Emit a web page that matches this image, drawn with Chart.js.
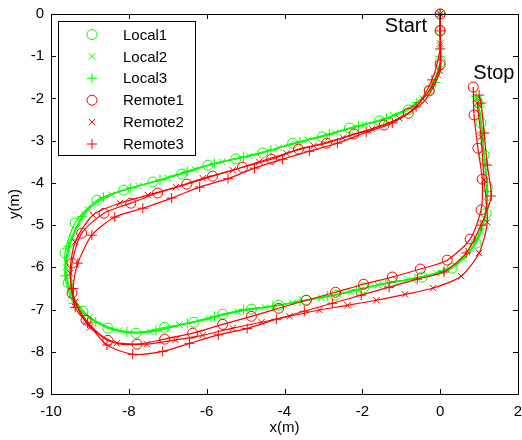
<!DOCTYPE html>
<html>
<head>
<meta charset="utf-8">
<script src="https://cdn.jsdelivr.net/npm/chart.js@4.4.0/dist/chart.umd.min.js"></script>
<style>
html, body { margin: 0; padding: 0; background: #fff; overflow: hidden; }
#wrap { width: 524px; height: 440px; }
</style>
</head>
<body>
<div id="wrap"><canvas id="myChart"></canvas></div>
<script>
const seriesNames = ['Local1', 'Local2', 'Local3', 'Remote1', 'Remote2', 'Remote3'];

const local1X = [0, 0, 0, -0.28, -0.82, -1.56, -2.33, -3.03, -3.79, -4.56, -5.25, -5.97, -6.64, -7.38, -8.13, -8.82, -9.38, -9.64, -9.56, -9.18, -8.54, -7.82, -7.08, -6.33, -5.59, -4.85, -4.15, -3.44, -2.69, -1.97, -1.23, -0.46, 0.31, 0.92, 1.18, 1.21, 1.13, 1.05, 0.97];
const local1Y = [0, -0.38, -1.14, -1.80, -2.27, -2.53, -2.70, -2.91, -3.06, -3.29, -3.43, -3.58, -3.79, -3.98, -4.17, -4.41, -4.95, -5.66, -6.37, -7.04, -7.44, -7.56, -7.42, -7.30, -7.11, -6.99, -6.90, -6.78, -6.66, -6.49, -6.35, -6.23, -6.02, -5.43, -4.72, -4.10, -3.34, -2.58, -2.09];

const local2X = [0, 0, -0.05, -0.45, -1.2, -1.95, -2.7, -3.4, -4.15, -4.9, -5.6, -6.3, -7.0, -7.75, -8.45, -9.05, -9.45, -9.62, -9.48, -9.0, -8.25, -7.45, -6.7, -5.95, -5.2, -4.5, -3.8, -3.05, -2.3, -1.6, -0.85, -0.1, 0.6, 1.05, 1.2, 1.17, 1.1, 1.02, 0.95];
const local2Y = [0, -0.75, -1.45, -2.0, -2.40, -2.62, -2.81, -2.98, -3.17, -3.36, -3.50, -3.68, -3.88, -4.07, -4.28, -4.63, -5.30, -6.0, -6.65, -7.18, -7.50, -7.53, -7.36, -7.22, -7.05, -6.95, -6.84, -6.72, -6.58, -6.42, -6.29, -6.13, -5.80, -5.15, -4.45, -3.75, -3.0, -2.35, -2.0];

const local3X = [0, 0, -0.12, -0.6, -1.38, -2.1, -2.85, -3.6, -4.35, -5.05, -5.8, -6.5, -7.2, -7.95, -8.65, -9.2, -9.55, -9.64, -9.42, -8.85, -8.05, -7.3, -6.5, -5.8, -5.05, -4.3, -3.6, -2.9, -2.15, -1.4, -0.65, 0.1, 0.75, 1.12, 1.22, 1.15, 1.08, 1.0, 0.93];
const local3Y = [0, -1.0, -1.62, -2.10, -2.47, -2.65, -2.84, -3.03, -3.22, -3.38, -3.54, -3.72, -3.93, -4.12, -4.34, -4.80, -5.5, -6.2, -6.85, -7.30, -7.53, -7.50, -7.33, -7.16, -7.0, -6.92, -6.80, -6.68, -6.53, -6.38, -6.26, -6.08, -5.62, -4.9, -4.2, -3.55, -2.8, -2.2, -1.95];

const remote1X = [0, 0, 0, -0.28, -0.82, -1.44, -2.21, -2.92, -3.64, -4.33, -5.08, -5.85, -6.51, -7.26, -7.95, -8.64, -9.21, -9.46, -9.46, -9.10, -8.54, -7.79, -7.08, -6.36, -5.59, -4.85, -4.15, -3.44, -2.69, -1.97, -1.23, -0.51, 0.18, 0.77, 1.05, 1.08, 0.97, 0.87, 0.85];
const remote1Y = [0, -0.4, -1.2, -1.82, -2.35, -2.63, -2.84, -3.06, -3.20, -3.44, -3.63, -3.84, -4.03, -4.24, -4.48, -4.72, -5.19, -5.90, -6.61, -7.25, -7.73, -7.82, -7.70, -7.56, -7.35, -7.16, -6.97, -6.78, -6.59, -6.40, -6.23, -6.04, -5.83, -5.33, -4.64, -3.91, -3.18, -2.39, -1.73];

const remote2X = [0, 0, 0, -0.4, -1.05, -1.75, -2.5, -3.25, -3.95, -4.65, -5.33, -6.10, -6.79, -7.51, -8.23, -8.92, -9.38, -9.51, -9.38, -9.0, -8.31, -7.54, -6.80, -6.10, -5.33, -4.59, -3.87, -3.10, -2.38, -1.64, -0.90, -0.18, 0.54, 1.0, 1.21, 1.13, 1.05, 0.95];
const remote2Y = [0, -0.7, -1.35, -2.05, -2.47, -2.72, -2.93, -3.12, -3.30, -3.50, -3.70, -3.89, -4.10, -4.29, -4.48, -4.76, -5.40, -6.14, -6.82, -7.42, -7.80, -7.82, -7.72, -7.61, -7.44, -7.30, -7.16, -7.01, -6.90, -6.78, -6.64, -6.49, -6.21, -5.66, -4.93, -3.93, -2.91, -2.11];

const remote3X = [0, 0, 0, -0.21, -0.62, -1.23, -1.90, -2.64, -3.36, -4.05, -4.77, -5.45, -6.18, -6.90, -7.64, -8.36, -8.95, -9.31, -9.43, -9.38, -9.06, -8.56, -7.90, -7.13, -6.44, -5.70, -4.96, -4.21, -3.49, -2.77, -2.03, -1.31, -0.59, 0.10, 0.67, 1.05, 1.31, 1.21, 1.13, 1.05, 1.0];
const remote3Y = [0, -0.4, -0.83, -1.56, -2.20, -2.58, -2.80, -3.06, -3.25, -3.44, -3.65, -3.90, -4.10, -4.36, -4.60, -4.81, -5.24, -5.90, -6.50, -6.95, -7.32, -7.84, -8.06, -7.99, -7.80, -7.60, -7.45, -7.23, -7.04, -6.85, -6.66, -6.47, -6.28, -6.11, -5.66, -5.0, -4.31, -3.58, -2.82, -2.11, -1.92];

const xTicks = [-10, -8, -6, -4, -2, 0, 2];
const yTicks = [0, -1, -2, -3, -4, -5, -6, -7, -8, -9];

const GREEN = '#00ff00';
const RED = '#ff0000';
const FONT = "'Liberation Sans', Arial, sans-serif";

function pts(xs, ys) {
    return xs.map((x, i) => ({ x: x, y: ys[i] }));
}

function series(name, xs, ys, color, style, r, order) {
    return {
        label: name,
        data: pts(xs, ys),
        showLine: true,
        borderColor: color,
        backgroundColor: 'rgba(0,0,0,0)',
        borderWidth: 1.2,
        pointStyle: style,
        pointRadius: r,
        pointHoverRadius: r,
        pointBorderColor: color,
        pointBorderWidth: 1,
        pointBackgroundColor: 'rgba(0,0,0,0)',
        tension: 0.25,
        clip: false,
        order: order
    };
}

const datasets = [
    series(seriesNames[0], local1X, local1Y, GREEN, 'circle', 5, 6),
    series(seriesNames[1], local2X, local2Y, GREEN, 'crossRot', 4.5, 5),
    series(seriesNames[2], local3X, local3Y, GREEN, 'cross', 5, 4),
    series(seriesNames[3], remote1X, remote1Y, RED, 'circle', 5, 3),
    series(seriesNames[4], remote2X, remote2Y, RED, 'crossRot', 4.5, 2),
    series(seriesNames[5], remote3X, remote3Y, RED, 'cross', 5, 1)
];

// box, inward ticks, legend and the two labels
const framePlugin = {
    id: 'frame',
    afterDraw(chart) {
        const ctx = chart.ctx;
        const a = chart.chartArea;
        const xs = chart.scales.x;
        const ys = chart.scales.y;
        ctx.save();
        ctx.strokeStyle = '#000';
        ctx.lineWidth = 1;
        ctx.beginPath();
        xTicks.forEach(v => {
            const px = Math.round(xs.getPixelForValue(v)) + 0.5;
            ctx.moveTo(px, a.bottom); ctx.lineTo(px, a.bottom - 5);
            ctx.moveTo(px, a.top); ctx.lineTo(px, a.top + 5);
        });
        yTicks.forEach(v => {
            const py = Math.round(ys.getPixelForValue(v)) + 0.5;
            ctx.moveTo(a.left, py); ctx.lineTo(a.left + 5, py);
            ctx.moveTo(a.right, py); ctx.lineTo(a.right - 5, py);
        });
        ctx.stroke();
        ctx.strokeRect(Math.round(a.left) + 0.5, Math.round(a.top) + 0.5,
            Math.round(a.right - a.left), Math.round(a.bottom - a.top));

        // legend
        const lx = 58, ly = 21, lw = 137, lh = 134;
        ctx.fillStyle = '#fff';
        ctx.fillRect(lx, ly, lw, lh);
        ctx.strokeRect(lx + 0.5, ly + 0.5, lw, lh);
        ctx.font = '15px ' + FONT;
        ctx.textBaseline = 'middle';
        ctx.textAlign = 'left';
        chart.data.datasets.forEach((ds, i) => {
            const y = 34.5 + i * 21.9;
            ctx.strokeStyle = ds.borderColor;
            ctx.fillStyle = 'rgba(0,0,0,0)';
            ctx.lineWidth = 1;
            Chart.helpers.drawPoint(ctx, {
                pointStyle: ds.pointStyle, radius: ds.pointRadius,
                borderWidth: 1, rotation: 0
            }, 92, y);
            ctx.fillStyle = '#000';
            ctx.fillText(ds.label, 123, y + 1);
        });

        ctx.font = '20px ' + FONT;
        ctx.textAlign = 'center';
        ctx.textBaseline = 'alphabetic';
        ctx.fillStyle = '#000';
        ctx.fillText('Start', xs.getPixelForValue(-0.88), ys.getPixelForValue(-0.43));
        ctx.fillText('Stop', xs.getPixelForValue(1.38), ys.getPixelForValue(-1.54));
        ctx.restore();
    }
};

const ctx = document.getElementById('myChart');

new Chart(ctx, {
    type: 'scatter',
    data: { datasets: datasets },
    options: {
        responsive: true,
        maintainAspectRatio: false,
        animation: false,
        events: [],
        layout: { padding: { top: 14, right: 0, left: 0, bottom: 0 } },
        plugins: {
            legend: { display: false },
            tooltip: { enabled: false }
        },
        scales: {
            x: {
                type: 'linear',
                min: -10, max: 2,
                afterFit(scale) {
                    scale.height = 46;
                    scale.paddingLeft = 0;
                    scale.paddingRight = 0;
                },
                afterBuildTicks(scale) { scale.ticks = xTicks.map(v => ({ value: v })); },
                grid: { display: false, drawTicks: false },
                border: { display: false },
                ticks: { color: '#000', font: { size: 15, family: FONT }, padding: 9, maxRotation: 0 },
                title: { display: true, text: 'x(m)', color: '#000', font: { size: 15, family: FONT }, padding: { top: 0, bottom: 3 } }
            },
            y: {
                type: 'linear',
                min: -9, max: 0,
                afterFit(scale) {
                    scale.width = 51;
                    scale.paddingTop = 0;
                    scale.paddingBottom = 0;
                },
                afterBuildTicks(scale) { scale.ticks = yTicks.map(v => ({ value: v })); },
                grid: { display: false, drawTicks: false },
                border: { display: false },
                ticks: { color: '#000', font: { size: 15, family: FONT }, padding: 7 },
                title: { display: true, text: 'y(m)', color: '#000', font: { size: 15, family: FONT }, padding: { top: 6, bottom: 0 } }
            }
        }
    },
    plugins: [framePlugin]
});
</script>
</body>
</html>
